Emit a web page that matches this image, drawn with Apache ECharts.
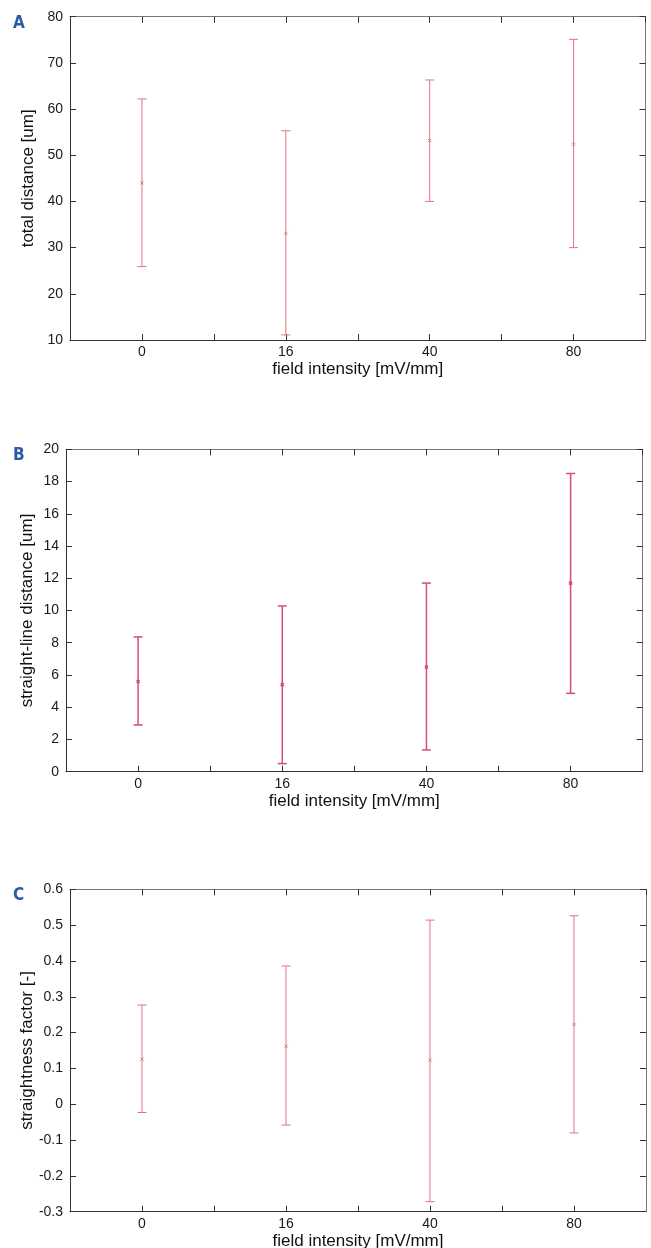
<!DOCTYPE html>
<html>
<head>
<meta charset="utf-8">
<script src="https://cdn.jsdelivr.net/npm/echarts@6/dist/echarts.min.js"></script>
<style>
  html, body { margin: 0; padding: 0; background: #fff; }
  #main { width: 651px; height: 1248px; }
</style>
</head>
<body>
<div id="main"></div>
<script>
// field intensity groups
var fieldLabels = ['0', '16', '40', '80'];

// A: total distance [um]
var totalMean = [44.0, 33.1, 53.2, 52.4];
var totalLow = [25.9, 11.1, 40.0, 30.0];
var totalHigh = [62.2, 55.3, 66.3, 75.1];
var totalTicks = [10, 20, 30, 40, 50, 60, 70, 80];

// B: straight-line distance [um]
var straightMean = [5.6, 5.4, 6.5, 11.7];
var straightLow = [2.9, 0.5, 1.35, 4.86];
var straightHigh = [8.36, 10.28, 11.7, 18.5];
var straightTicks = [0, 2, 4, 6, 8, 10, 12, 14, 16, 18, 20];

// C: straightness factor [-]
var factorMean = [0.126, 0.162, 0.123, 0.223];
var factorLow = [-0.023, -0.058, -0.272, -0.080];
var factorHigh = [0.277, 0.386, 0.514, 0.526];
var factorTicks = [-0.3, -0.2, -0.1, 0, 0.1, 0.2, 0.3, 0.4, 0.5, 0.6];

var chart = echarts.init(document.getElementById('main'), null, { renderer: 'canvas' });

var font = 'Liberation Sans';
var panels = [
  { letter: 'A', name: 'total distance [um]', mean: totalMean, low: totalLow, high: totalHigh, ticks: totalTicks,
    grid: { left: 70, top: 16.7, width: 575.5, height: 323.3 }, nameGap: 33, color: '#e3727f', lw: 1, fmt: function (v) { return String(v); } },
  { letter: 'B', name: 'straight-line distance [um]', mean: straightMean, low: straightLow, high: straightHigh, ticks: straightTicks,
    grid: { left: 66, top: 449.3, width: 576.7, height: 322.4 }, nameGap: 30, color: '#d44f6c', lw: 1.5, fmt: function (v) { return String(v); } },
  { letter: 'C', name: 'straightness factor [-]', mean: factorMean, low: factorLow, high: factorHigh, ticks: factorTicks,
    grid: { left: 70, top: 889.3, width: 576, height: 322.4 }, nameGap: 34, color: '#e3727f', lw: 1,
    fmt: function (v) { return Math.abs(v) < 1e-9 ? '0' : v.toFixed(1); } }
];

var grids = [], xAxes = [], yAxes = [], series = [], graphics = [];

panels.forEach(function (p, i) {
  grids.push(Object.assign({ containLabel: false, outerBoundsMode: 'none' }, p.grid));

  var xBase = {
    gridIndex: i, type: 'value', min: 0.5, max: 4.5, interval: 0.5,
    splitLine: { show: false },
    axisTick: { show: true, inside: true, length: 6, lineStyle: { color: '#333' } }
  };
  xAxes.push(Object.assign({}, xBase, {
    position: 'bottom',
    axisLine: { show: true, onZero: false, lineStyle: { color: '#333', width: 1 } },
    axisLabel: {
      show: true, margin: 5, color: '#1a1a1a', fontFamily: font, fontSize: 14,
      showMinLabel: false, showMaxLabel: false,
      formatter: function (v) { return Number.isInteger(v) ? fieldLabels[v - 1] : ''; }
    },
    name: 'field intensity [mV/mm]', nameLocation: 'middle', nameGap: 21, nameMoveOverlap: false,
    nameTextStyle: { color: '#111', fontFamily: font, fontSize: 17 }
  }));
  xAxes.push(Object.assign({}, xBase, {
    position: 'top',
    axisLine: { show: true, onZero: false, lineStyle: { color: '#777', width: 1 } },
    axisLabel: { show: false }
  }));

  var step = p.ticks[1] - p.ticks[0];
  var yBase = {
    gridIndex: i, type: 'value', min: p.ticks[0], max: p.ticks[p.ticks.length - 1], interval: step,
    splitLine: { show: false },
    axisTick: { show: true, inside: true, length: 6, lineStyle: { color: '#333' } }
  };
  yAxes.push(Object.assign({}, yBase, {
    position: 'left',
    axisLine: { show: true, onZero: false, lineStyle: { color: '#333', width: 1 } },
    axisLabel: { show: true, margin: 7, color: '#1a1a1a', fontFamily: font, fontSize: 14, formatter: p.fmt },
    name: p.name, nameLocation: 'middle', nameGap: p.nameGap, nameMoveOverlap: false,
    nameTextStyle: { color: '#111', fontFamily: font, fontSize: 17 }
  }));
  yAxes.push(Object.assign({}, yBase, {
    position: 'right',
    axisLine: { show: true, onZero: false, lineStyle: { color: '#777', width: 1 } },
    axisLabel: { show: false }
  }));

  var data = p.mean.map(function (m, k) { return [k + 1, p.low[k], p.high[k], m]; });
  series.push({
    type: 'custom',
    xAxisIndex: i * 2,
    yAxisIndex: i * 2,
    encode: { x: 0, y: [1, 2, 3] },
    data: data,
    renderItem: function (params, api) {
      var x = api.value(0);
      var lo = api.coord([x, api.value(1)]);
      var hi = api.coord([x, api.value(2)]);
      var m = api.coord([x, api.value(3)]);
      var cap = 4.5, s = 1.5;
      var st = { stroke: p.color, lineWidth: p.lw };
      return {
        type: 'group',
        children: [
          { type: 'line', shape: { x1: hi[0], y1: hi[1], x2: lo[0], y2: lo[1] }, style: st },
          { type: 'line', shape: { x1: hi[0] - cap, y1: hi[1], x2: hi[0] + cap, y2: hi[1] }, style: st },
          { type: 'line', shape: { x1: lo[0] - cap, y1: lo[1], x2: lo[0] + cap, y2: lo[1] }, style: st },
          { type: 'line', shape: { x1: m[0] - s, y1: m[1] - s, x2: m[0] + s, y2: m[1] + s }, style: st },
          { type: 'line', shape: { x1: m[0] - s, y1: m[1] + s, x2: m[0] + s, y2: m[1] - s }, style: st }
        ]
      };
    }
  });

  graphics.push({
    type: 'text', left: 13, top: p.grid.top - 2,
    style: { text: p.letter, fill: '#2b5aa6', fontFamily: 'DejaVu Sans Condensed', fontWeight: 'bold', fontSize: 17 }
  });
});

chart.setOption({
  backgroundColor: '#ffffff',
  animation: false,
  grid: grids,
  xAxis: xAxes,
  yAxis: yAxes,
  series: series,
  graphic: graphics
});
</script>
</body>
</html>
